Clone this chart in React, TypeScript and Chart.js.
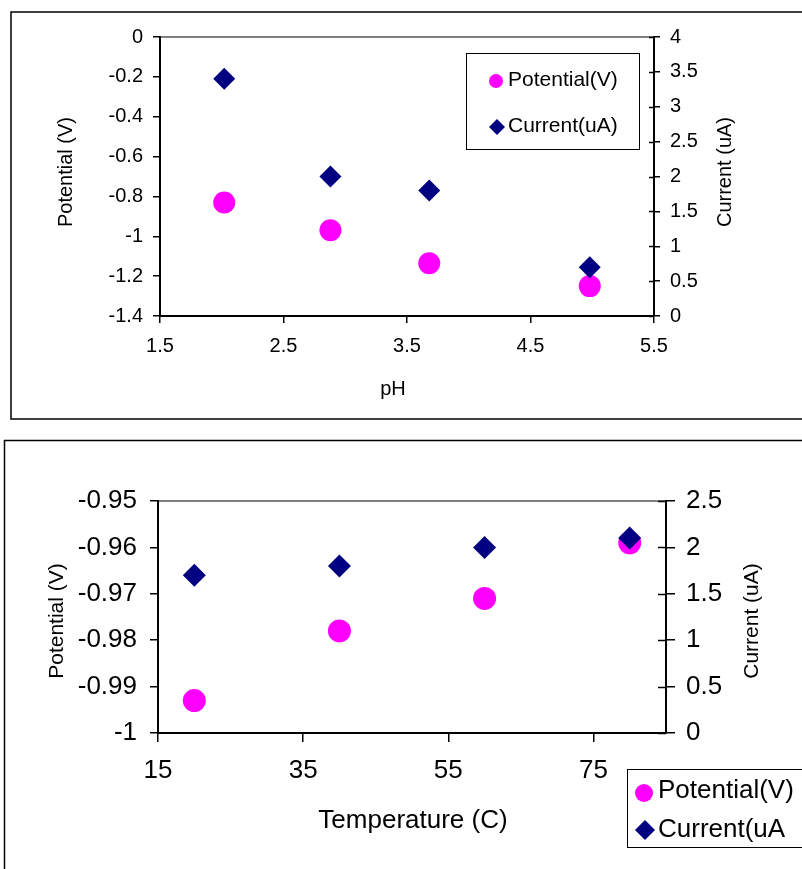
import React, { useEffect, useRef } from "react";
import { Chart, registerables } from "chart.js";

Chart.register(...registerables);

// ---------- data: chart 1 (pH) ----------
const phValues = [2.02, 2.88, 3.68, 4.98];
const phPotential = [-0.83, -0.97, -1.135, -1.25];
const phCurrent = [3.4, 2.0, 1.8, 0.7];
const phXTicks = [1.5, 2.5, 3.5, 4.5, 5.5];
const phPotTicks = [0, -0.2, -0.4, -0.6, -0.8, -1, -1.2, -1.4];
const phCurTicks = [0, 0.5, 1, 1.5, 2, 2.5, 3, 3.5, 4];
const phTitles = ["Potential (V)", "Current (uA)", "pH"];
const phLegend = ["Potential(V)", "Current(uA)"];

// ---------- data: chart 2 (temperature) ----------
const tempValues = [20, 40, 60, 80];
const tempPotential = [-0.993, -0.978, -0.971, -0.959];
const tempCurrent = [1.7, 1.8, 2.0, 2.1];
const tempXTicks = [15, 35, 55, 75];
const tempPotTicks = [-1, -0.99, -0.98, -0.97, -0.96, -0.95];
const tempCurTicks = [0, 0.5, 1, 1.5, 2, 2.5];
const tempTitles = ["Potential (V)", "Current (uA)", "Temperature (C)"];
const tempLegend = ["Potential(V)", "Current(uA"];

const FONT = "'Liberation Sans', Arial, Helvetica, sans-serif";
const MAGENTA = "#FF00FF";
const NAVY = "#000080";

type Spec = {
  top: number;
  height: number;
  xs: number[];
  pot: number[];
  cur: number[];
  xTicks: number[];
  potTicks: number[];
  curTicks: number[];
  xRange: [number, number];
  potRange: [number, number];
  curRange: [number, number];
  titles: string[];
  legendNames: string[];
  leftW: number;
  rightW: number;
  padTop: number;
  xH: number;
  tickFont: number;
  tickLen: { x: number; y: number; y2: number; y2In: number };
  tickPad: { x: number; y: number; y2: number };
  pointR: number;
  titlePos: { x: number; y: number; rot: number; size: number }[];
  legendBox: [number, number, number, number];
  legendItems: { cx: number; cy: number; r: number; tx: number; ty: number }[];
  legendFont: number;
  frame: [number, number, number, number];
};

const specs: Spec[] = [
  {
    top: 0,
    height: 430,
    xs: phValues,
    pot: phPotential,
    cur: phCurrent,
    xTicks: phXTicks,
    potTicks: phPotTicks,
    curTicks: phCurTicks,
    xRange: [1.5, 5.5],
    potRange: [-1.4, 0],
    curRange: [0, 4],
    titles: phTitles,
    legendNames: phLegend,
    leftW: 160,
    rightW: 148,
    padTop: 37,
    xH: 114,
    tickFont: 20,
    tickLen: { x: 7, y: 7, y2: 6, y2In: 5 },
    tickPad: { x: 11, y: 10, y2: 10 },
    pointR: 11,
    titlePos: [
      { x: 66, y: 172, rot: -Math.PI / 2, size: 20 },
      { x: 725, y: 172, rot: -Math.PI / 2, size: 20 },
      { x: 393, y: 389, rot: 0, size: 20 },
    ],
    legendBox: [466.5, 53.5, 173, 96],
    legendItems: [
      { cx: 496, cy: 81, r: 7, tx: 508, ty: 80 },
      { cx: 497, cy: 127, r: 8, tx: 508, ty: 126 },
    ],
    legendFont: 21,
    frame: [11, 12, 900, 407],
  },
  {
    top: 430,
    height: 439,
    xs: tempValues,
    pot: tempPotential,
    cur: tempCurrent,
    xTicks: tempXTicks,
    potTicks: tempPotTicks,
    curTicks: tempCurTicks,
    xRange: [15, 85],
    potRange: [-1, -0.95],
    curRange: [0, 2.5],
    titles: tempTitles,
    legendNames: tempLegend,
    leftW: 158,
    rightW: 136,
    padTop: 71,
    xH: 136,
    tickFont: 26,
    tickLen: { x: 9, y: 8, y2: 9, y2In: 8 },
    tickPad: { x: 13, y: 13, y2: 11 },
    pointR: 11.5,
    titlePos: [
      { x: 57, y: 191, rot: -Math.PI / 2, size: 21 },
      { x: 752, y: 191, rot: -Math.PI / 2, size: 21 },
      { x: 413, y: 391, rot: 0, size: 26 },
    ],
    legendBox: [627.5, 339.5, 300, 78],
    legendItems: [
      { cx: 644, cy: 363, r: 9, tx: 658, ty: 361 },
      { cx: 645, cy: 400, r: 10, tx: 658, ty: 400 },
    ],
    legendFont: 26,
    frame: [4.5, 10.5, 900, 600],
  },
];

function drawDiamond(ctx: CanvasRenderingContext2D, x: number, y: number, r: number) {
  ctx.beginPath();
  ctx.moveTo(x - r, y);
  ctx.lineTo(x, y - r);
  ctx.lineTo(x + r, y);
  ctx.lineTo(x, y + r);
  ctx.closePath();
  ctx.fill();
}

function buildConfig(s: Spec): any {
  const decor = {
    id: "decor",
    beforeDraw(chart: any) {
      const ctx: CanvasRenderingContext2D = chart.ctx;
      const a = chart.chartArea;
      ctx.save();
      ctx.strokeStyle = "#000";
      ctx.lineWidth = 1.5;
      ctx.strokeRect(s.frame[0], s.frame[1], s.frame[2], s.frame[3]);
      ctx.strokeStyle = "#808080";
      ctx.lineWidth = 2;
      ctx.beginPath();
      ctx.moveTo(a.left, a.top);
      ctx.lineTo(a.right, a.top);
      ctx.stroke();
      ctx.restore();
    },
    afterDraw(chart: any) {
      const ctx: CanvasRenderingContext2D = chart.ctx;
      const a = chart.chartArea;
      const y2 = chart.scales.y2;
      ctx.save();
      // inner half of the crossing ticks on the secondary axis
      ctx.strokeStyle = "#000";
      ctx.lineWidth = 1.5;
      y2.ticks.forEach((t: any) => {
        const py = Math.round(y2.getPixelForValue(t.value)) + 0.5;
        ctx.beginPath();
        ctx.moveTo(a.right - s.tickLen.y2In, py);
        ctx.lineTo(a.right, py);
        ctx.stroke();
      });
      // axis titles
      ctx.fillStyle = "#000";
      ctx.textAlign = "center";
      ctx.textBaseline = "middle";
      s.titlePos.forEach((p, i) => {
        ctx.save();
        ctx.translate(p.x, p.y);
        ctx.rotate(p.rot);
        ctx.font = `${p.size}px ${FONT}`;
        ctx.fillText(s.titles[i], 0, 0);
        ctx.restore();
      });
      // legend
      ctx.fillStyle = "#fff";
      ctx.fillRect(s.legendBox[0], s.legendBox[1], s.legendBox[2], s.legendBox[3]);
      ctx.strokeStyle = "#000";
      ctx.lineWidth = 1;
      ctx.strokeRect(s.legendBox[0], s.legendBox[1], s.legendBox[2], s.legendBox[3]);
      const [i0, i1] = s.legendItems;
      ctx.fillStyle = MAGENTA;
      ctx.beginPath();
      ctx.arc(i0.cx, i0.cy, i0.r, 0, Math.PI * 2);
      ctx.fill();
      ctx.fillStyle = NAVY;
      drawDiamond(ctx, i1.cx, i1.cy, i1.r);
      ctx.fillStyle = "#000";
      ctx.textAlign = "left";
      ctx.font = `${s.legendFont}px ${FONT}`;
      ctx.fillText(s.legendNames[0], i0.tx, i0.ty);
      ctx.fillText(s.legendNames[1], i1.tx, i1.ty);
      ctx.restore();
    },
  };

  const gridOpts = (len: number) => ({
    drawOnChartArea: false,
    drawTicks: true,
    tickLength: len,
    color: "#000",
    lineWidth: 1.5,
  });
  const border = { display: true, color: "#000", width: 2 };
  const tickFont = { family: FONT, size: s.tickFont };
  const setTicks = (arr: number[]) => (scale: any) => {
    scale.ticks = arr.map((v) => ({ value: v }));
  };

  return {
    type: "scatter",
    data: {
      datasets: [
        {
          label: s.legendNames[0],
          data: s.xs.map((x, i) => ({ x, y: s.pot[i] })),
          yAxisID: "y",
          pointStyle: "circle",
          pointRadius: s.pointR,
          pointHoverRadius: s.pointR,
          backgroundColor: MAGENTA,
          borderColor: MAGENTA,
          borderWidth: 0,
          showLine: false,
          order: 1,
        },
        {
          label: s.legendNames[1],
          data: s.xs.map((x, i) => ({ x, y: s.cur[i] })),
          yAxisID: "y2",
          pointStyle: "rectRot",
          pointRadius: s.pointR,
          pointHoverRadius: s.pointR,
          backgroundColor: NAVY,
          borderColor: NAVY,
          borderWidth: 0,
          showLine: false,
          order: 0,
        },
      ],
    },
    options: {
      animation: false,
      responsive: false,
      maintainAspectRatio: false,
      events: [],
      layout: { padding: { left: 0, right: 0, top: s.padTop, bottom: 0 } },
      plugins: {
        legend: { display: false },
        tooltip: { enabled: false },
        title: { display: false },
      },
      scales: {
        x: {
          type: "linear",
          position: "bottom",
          min: s.xRange[0],
          max: s.xRange[1],
          grid: gridOpts(s.tickLen.x),
          border,
          ticks: {
            color: "#000",
            font: tickFont,
            padding: s.tickPad.x,
            maxRotation: 0,
            autoSkip: false,
            callback: (v: any) => String(v),
          },
          afterBuildTicks: setTicks(s.xTicks),
          afterFit: (scale: any) => {
            scale.height = s.xH;
          },
        },
        y: {
          type: "linear",
          position: "left",
          min: s.potRange[0],
          max: s.potRange[1],
          grid: gridOpts(s.tickLen.y),
          border,
          ticks: {
            color: "#000",
            font: tickFont,
            padding: s.tickPad.y,
            autoSkip: false,
            callback: (v: any) => String(v),
          },
          afterBuildTicks: setTicks(s.potTicks),
          afterFit: (scale: any) => {
            scale.width = s.leftW;
          },
        },
        y2: {
          type: "linear",
          position: "right",
          min: s.curRange[0],
          max: s.curRange[1],
          grid: gridOpts(s.tickLen.y2),
          border,
          ticks: {
            color: "#000",
            font: tickFont,
            padding: s.tickPad.y2,
            autoSkip: false,
            callback: (v: any) => String(v),
          },
          afterBuildTicks: setTicks(s.curTicks),
          afterFit: (scale: any) => {
            scale.width = s.rightW;
          },
        },
      },
    },
    plugins: [decor],
  };
}

function Panel({ spec }: { spec: Spec }) {
  const ref = useRef<HTMLCanvasElement | null>(null);
  useEffect(() => {
    if (!ref.current) return;
    const chart = new Chart(ref.current, buildConfig(spec));
    return () => chart.destroy();
  }, [spec]);
  return (
    <canvas
      ref={ref}
      width={802}
      height={spec.height}
      style={{
        position: "absolute",
        left: 0,
        top: spec.top,
        width: 802,
        height: spec.height,
        display: "block",
      }}
    />
  );
}

export default function App() {
  return (
    <div
      style={{
        position: "absolute",
        left: 0,
        top: 0,
        width: 802,
        height: 869,
        overflow: "hidden",
        background: "#fff",
      }}
    >
      {specs.map((s, i) => (
        <Panel key={i} spec={s} />
      ))}
    </div>
  );
}
